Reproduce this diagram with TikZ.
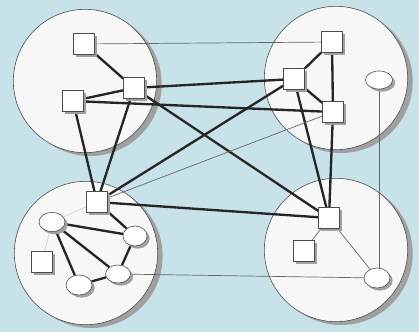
\documentclass[tikz,border=0pt]{standalone}
\usepackage{tikz}
\usetikzlibrary{shapes.geometric,shadows}

\definecolor{paleblue}{RGB}{199,226,232}
\definecolor{shade}{RGB}{160,160,160}
\definecolor{rim}{RGB}{75,75,75}

\pgfdeclarelayer{zones}
\pgfdeclarelayer{links}
\pgfsetlayers{zones,links,main}

\begin{document}
\begin{tikzpicture}[x=0.03cm, y=-0.03cm,
  zone/.style={circle, draw=rim, line width=0.5pt, fill=white!97!black, minimum size=4.3cm, inner sep=0pt,
    general shadow={fill=shade, shadow xshift=0.15cm, shadow yshift=-0.1cm}},
  box/.style={rectangle, draw=rim, line width=0.5pt, fill=white, minimum size=0.63cm, inner sep=0pt,
    general shadow={fill=shade, shadow xshift=0.08cm, shadow yshift=-0.08cm}},
  blob/.style={ellipse, draw=rim, line width=0.5pt, fill=white, minimum width=0.78cm, minimum height=0.58cm, inner sep=0pt,
    general shadow={fill=shade, shadow xshift=0.08cm, shadow yshift=-0.08cm}},
  heavy/.style={line width=2pt, black!85},
  light/.style={line width=0.6pt, black!60},
  faint/.style={line width=0.6pt, black!18}]

  \useasboundingbox (0,0) rectangle (419,332);

  % the four sites
  \begin{pgfonlayer}{zones}
    \fill[paleblue] (0,0) rectangle (419,332);
    \node[zone] (tl) at (85,81) {};
    \node[zone] (tr) at (336,78) {};
    \node[zone] (bl) at (86,253) {};
    \node[zone] (br) at (336,250) {};
  \end{pgfonlayer}

  % top left
  \node[box] (a1) at (84,44) {};
  \node[box] (a2) at (134,88) {};
  \node[box] (a3) at (73,101) {};

  % top right
  \node[box] (b1) at (332,42) {};
  \node[box] (b2) at (294,79) {};
  \node[box] (b3) at (333,112) {};
  \node[blob, minimum width=0.81cm, minimum height=0.54cm] (b4) at (379,80) {};

  % bottom left
  \node[box] (c1) at (97,202) {};
  \node[blob] (c2) at (52,222) {};
  \node[blob, minimum width=0.72cm, minimum height=0.6cm] (c3) at (135,236) {};
  \node[blob, minimum width=0.75cm, minimum height=0.54cm] (c4) at (118,274) {};
  \node[blob, minimum width=0.78cm, minimum height=0.6cm] (c5) at (79,285) {};
  \node[box] (c6) at (42,262) {};

  % bottom right
  \node[box] (d1) at (329,218) {};
  \node[box] (d2) at (304,251) {};
  \node[blob, minimum width=0.78cm, minimum height=0.6cm] (d3) at (377,278) {};

  \begin{pgfonlayer}{links}
    \draw[heavy] (a1) -- (a2);
    \draw[heavy] (a2) -- (a3);
    \draw[heavy] (b1) -- (b2);
    \draw[heavy] (b2) -- (b3);
    \draw[heavy] (b1) -- (b3);
    \draw[heavy] (a2) -- (b2);
    \draw[heavy] (a3) -- (b3);
    \draw[heavy] (a2) -- (d1);
    \draw[heavy] (a3) -- (c1);
    \draw[heavy] (a2) -- (c1);
    \draw[heavy] (b2) -- (c1);
    \draw[heavy] (b2) -- (d1);
    \draw[heavy] (b3) -- (d1);
    \draw[heavy] (c1) -- (d1);
    \draw[heavy] (c1) -- (c3);
    \draw[heavy] (c2) -- (c3);
    \draw[heavy] (c2) -- (c4);
    \draw[heavy] (c2) -- (c5);
    \draw[heavy] (c5) -- (c4);
    \draw[heavy] (c3) -- (c4);
    \draw[light] (a1) -- (b1);
    \draw[light] (b3) -- (c1);
    \draw[light] (b4) -- (d3 -| b4);
    \draw[light] (c4) -- (d3);
    \draw[light] (d1) -- (d2);
    \draw[light] (d1) -- (d3);
    \draw[faint] (c2) -- (c1);
    \draw[faint] (c6) -- (c2);
  \end{pgfonlayer}
\end{tikzpicture}
\end{document}
